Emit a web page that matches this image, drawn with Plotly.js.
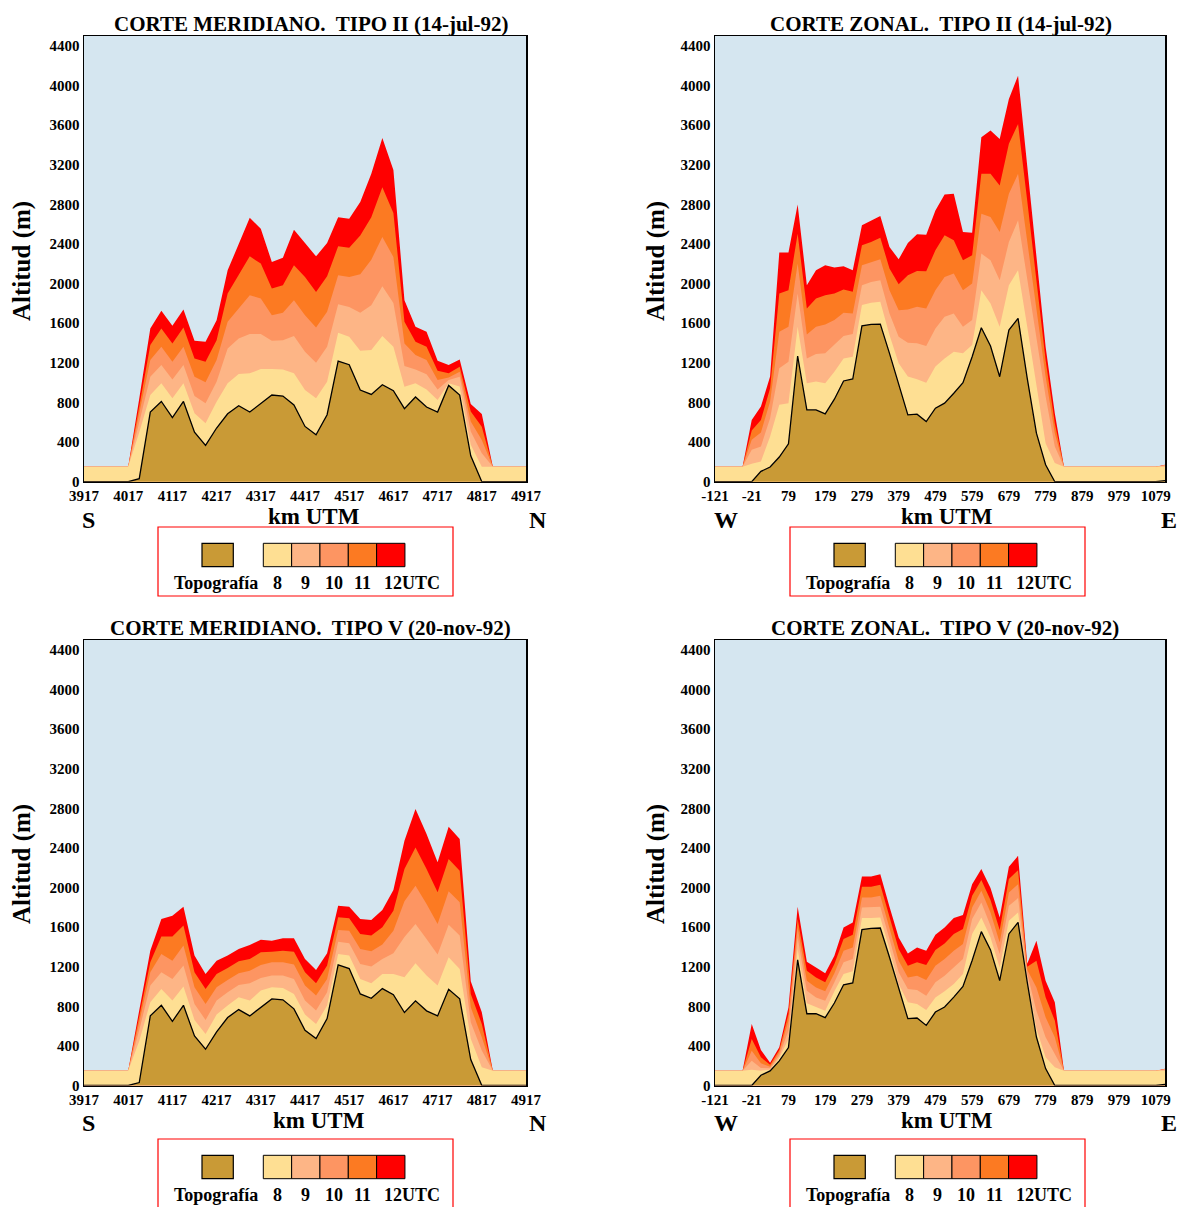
<!DOCTYPE html>
<html><head><meta charset="utf-8">
<script src="https://cdn.plot.ly/plotly-3.0.1.min.js"></script>
<style>html,body{margin:0;padding:0;background:#fff}#chart{width:1179px;height:1207px}</style>
</head><body><div id="chart"></div>
<script>
// ---------- DATA ----------
const merX = [3917,3942,3967,3992,4017,4042,4067,4092,4117,4142,4167,4192,4217,4242,4267,4292,4317,4342,4367,4392,4417,4442,4467,4492,4517,4542,4567,4592,4617,4642,4667,4692,4717,4742,4767,4792,4817,4842,4867,4892,4917];
const merTicks = [3917,4017,4117,4217,4317,4417,4517,4617,4717,4817,4917];
const merTopo = [0,0,0,0,0,30,703,810,648,810,500,366,542,686,767,703,787,875,865,774,558,474,676,1218,1181,925,881,979,918,737,855,754,703,972,875,262,0,0,0,0,0];

// Tipo II (14-jul-92), meridional: mixing heights at 8..12 UTC
const m2_8  = [150,150,150,150,150,500,876,993,842,993,691,590,808,993,1087,1094,1137,1137,1134,1094,926,842,1010,1503,1463,1322,1329,1470,1362,959,993,932,825,993,960,372,150,150,150,150,150];
const m2_9  = [150,150,150,150,150,600,1060,1178,1033,1178,865,792,1010,1345,1446,1490,1490,1423,1429,1470,1312,1201,1362,1792,1765,1705,1782,1973,1805,1168,1134,1084,932,1027,1060,506,288,150,150,150,150];
const m2_10 = [150,150,150,150,150,690,1228,1362,1211,1362,1060,1003,1228,1614,1748,1883,1849,1681,1705,1832,1681,1557,1715,2084,2067,2094,2242,2470,2269,1396,1278,1228,1027,1053,1110,607,422,150,150,150,150];
const m2_11 = [150,150,150,150,150,760,1379,1547,1396,1557,1245,1211,1429,1899,2084,2275,2202,1950,1983,2185,2067,1916,2074,2376,2363,2487,2671,2974,2712,1614,1413,1362,1121,1094,1160,708,556,150,150,150,150];
const m2_12 = [150,150,150,150,150,840,1547,1725,1574,1738,1423,1413,1631,2134,2396,2665,2554,2218,2262,2544,2410,2275,2410,2671,2655,2823,3108,3470,3148,1832,1564,1513,1221,1178,1235,785,684,150,150,150,150];

// Tipo V (20-nov-92), meridional
const m5_8  = [150,150,150,150,150,450,841,975,858,999,662,521,716,807,891,858,959,992,985,925,716,622,807,1329,1312,1076,1033,1127,1127,1093,1234,1110,1009,1295,1177,471,185,150,150,150,150];
const m5_9  = [150,150,150,150,150,560,1009,1144,1076,1211,824,662,858,942,1016,1033,1086,1110,1110,1076,858,757,942,1453,1436,1228,1201,1278,1335,1500,1631,1480,1322,1625,1514,639,353,150,150,150,150];
const m5_10 = [150,150,150,150,150,640,1144,1329,1261,1413,992,824,992,1066,1134,1160,1218,1245,1245,1221,1009,908,1076,1571,1564,1379,1356,1423,1564,1860,2018,1833,1631,1961,1850,790,488,150,150,150,150];
const m5_11 = [150,150,150,150,150,700,1245,1504,1504,1615,1144,975,1127,1187,1255,1278,1345,1352,1362,1352,1144,1033,1211,1699,1689,1531,1514,1598,1766,2186,2405,2186,1951,2287,2170,925,622,150,150,150,150];
const m5_12 = [150,150,150,150,150,760,1362,1682,1715,1806,1312,1127,1261,1312,1379,1419,1473,1463,1487,1487,1278,1167,1335,1816,1806,1682,1672,1773,1975,2472,2792,2540,2254,2614,2489,1053,740,150,150,150,150];

const zonX = [-121,-96,-71,-46,-21,4,29,54,79,104,129,154,179,204,229,254,279,304,329,354,379,404,429,454,479,504,529,554,579,604,629,654,679,704,729,754,779,804,829,854,879,904,929,954,979,1004,1029,1054,1079,1104];
const zonTicks = [-121,-21,79,179,279,379,479,579,679,779,879,979,1079];
const zonTopo = [0,0,0,0,0,104,148,249,383,1269,725,725,685,833,1017,1037,1574,1588,1591,1296,994,675,682,607,742,793,893,1000,1262,1554,1370,1060,1531,1648,1044,490,171,0,0,0,0,0,0,0,0,0,0,0,0,10];

// Tipo II, zonal
const z2_8  = [150,150,150,150,180,205,457,776,792,1564,994,1011,994,1111,1245,1262,1783,1806,1816,1481,1195,1061,1034,1000,1162,1245,1313,1296,1380,1934,1799,1564,1984,2135,1564,970,389,188,150,150,150,150,150,150,150,150,150,150,150,150];
const z2_9  = [150,150,150,150,322,356,641,1145,1212,1900,1245,1289,1296,1380,1470,1491,1984,2017,2034,1699,1464,1403,1397,1370,1548,1665,1699,1564,1632,2303,2236,2034,2420,2639,2061,1457,860,356,150,150,150,150,150,150,150,150,150,150,150,165];
const z2_10 = [150,150,150,150,423,497,809,1514,1564,2202,1487,1564,1588,1632,1705,1699,2185,2219,2246,1934,1732,1739,1766,1749,1934,2068,2101,1934,2001,2706,2672,2521,2907,3109,2444,1752,1061,490,150,150,150,150,150,150,150,150,150,150,150,165];
const z2_11 = [150,150,150,150,517,624,943,1900,1934,2504,1749,1850,1883,1900,1940,1917,2387,2420,2464,2152,1994,2085,2128,2125,2337,2488,2437,2236,2286,3109,3109,2991,3411,3612,2837,2034,1229,591,150,150,150,150,150,150,150,150,150,150,150,165];
const z2_12 = [150,150,150,150,624,759,1061,2313,2313,2800,1984,2135,2185,2162,2175,2135,2588,2639,2682,2370,2246,2410,2498,2494,2739,2900,2907,2521,2514,3478,3545,3461,3864,4099,3209,2290,1363,692,150,150,150,150,150,150,150,150,150,150,150,170];

// Tipo V, zonal
const z5_8  = [150,150,150,150,160,150,160,280,470,1378,830,789,756,951,1126,1153,1691,1691,1698,1378,1025,840,823,763,890,951,1025,1126,1530,1698,1496,1193,1664,1748,1090,572,285,184,150,150,150,150,150,150,150,150,150,150,150,150];
const z5_9  = [150,150,150,150,251,178,175,302,554,1496,958,890,857,1042,1244,1277,1799,1799,1805,1479,1143,975,964,907,1042,1109,1193,1277,1681,1849,1614,1328,1815,1893,1130,756,487,319,150,150,150,150,150,150,150,150,150,150,150,165];
const z5_10 = [150,150,150,150,352,225,190,335,655,1597,1059,991,951,1133,1361,1395,1900,1900,1916,1597,1260,1092,1109,1065,1210,1277,1361,1429,1799,1967,1748,1445,1950,2034,1170,991,689,487,150,150,150,150,150,150,150,150,150,150,150,165];
const z5_11 = [150,150,150,150,470,285,210,359,722,1681,1160,1092,1042,1227,1479,1523,2007,2007,2027,1698,1378,1210,1244,1217,1368,1435,1530,1580,1916,2075,1873,1570,2085,2175,1200,1260,891,656,150,150,150,150,150,150,150,150,150,150,150,165];
const z5_12 = [150,150,150,150,621,359,230,386,789,1805,1250,1193,1133,1311,1597,1647,2112,2112,2135,1805,1496,1334,1395,1361,1523,1597,1691,1721,2034,2186,1994,1698,2209,2320,1230,1462,1059,840,150,150,150,150,150,150,150,150,150,150,150,170];

const yTicks = [0,400,800,1200,1600,2000,2400,2800,3200,3600,4000,4400];
const hourLabels = ['8','9','10','11'];
const titles = ['CORTE MERIDIANO.\u00a0 TIPO II (14-jul-92)','CORTE ZONAL.\u00a0 TIPO II (14-jul-92)',
                'CORTE MERIDIANO.\u00a0 TIPO V (20-nov-92)','CORTE ZONAL.\u00a0 TIPO V (20-nov-92)'];

// ---------- STYLE / LAYOUT ----------
const W = 1179, H = 1207;
const fx = v => v / W, fy = v => 1 - v / H;
const TOPO_C = '#c99a36';
const LAYER_C = ['#fedf93','#fdb586','#fd9562','#fc7a22','#ff0000']; // 8..12 UTC
const FONT = 'Liberation Serif, Times New Roman, serif';

const panels = [
  {xa:'x',  ya:'y',  x:merX, topo:merTopo, L:[m2_8,m2_9,m2_10,m2_11,m2_12], ox:0,   oy:0},
  {xa:'x2', ya:'y2', x:zonX, topo:zonTopo, L:[z2_8,z2_9,z2_10,z2_11,z2_12], ox:631, oy:0},
  {xa:'x3', ya:'y3', x:merX, topo:merTopo, L:[m5_8,m5_9,m5_10,m5_11,m5_12], ox:0,   oy:603},
  {xa:'x4', ya:'y4', x:zonX, topo:zonTopo, L:[z5_8,z5_9,z5_10,z5_11,z5_12], ox:631, oy:603}
];

const traces = [];
panels.forEach(p => {
  for (let j = 4; j >= 0; j--) {
    traces.push({x:p.x, y:p.L[j], xaxis:p.xa, yaxis:p.ya, type:'scatter', mode:'lines',
      fill:'tozeroy', fillcolor:LAYER_C[j], line:{width:0, color:LAYER_C[j]}, hoverinfo:'skip', showlegend:false});
  }
  traces.push({x:p.x, y:p.topo, xaxis:p.xa, yaxis:p.ya, type:'scatter', mode:'lines',
    fill:'tozeroy', fillcolor:TOPO_C, line:{width:1.3, color:'#000'}, hoverinfo:'skip', showlegend:false});
});

const tickfont = {family:FONT, size:15, color:'#000', weight:'bold'};
function xax(dom, range, ticks, anchor) {
  return {domain:dom, range:range, tickvals:ticks, ticktext:ticks.map(String), tickfont:tickfont,
    showline:true, mirror:true, linecolor:'#000', linewidth:1.5, showgrid:false, zeroline:false,
    ticks:'', anchor:anchor, fixedrange:true};
}
function yax(dom, anchor) {
  return {domain:dom, range:[0,4500], tickvals:yTicks, ticktext:yTicks.map(String), tickfont:tickfont,
    showline:true, mirror:true, linecolor:'#000', linewidth:1.5, showgrid:false, zeroline:false,
    ticks:'', anchor:anchor, fixedrange:true};
}
const xL = [fx(84), fx(526)], xR = [fx(715), fx(1165)];
const yT = [fy(481.7), fy(36)], yB = [fy(1085.5), fy(640)];

const ann = [];
const shapes = [];
function txt(s, x, y, size, opts) {
  ann.push(Object.assign({text:'<b>'+s+'</b>', x:fx(x), y:fy(y), xref:'paper', yref:'paper',
    showarrow:false, xanchor:'center', yanchor:'middle',
    font:{family:FONT, size:size, color:'#000'}}, opts || {}));
}
const titlePos = [[311,24],[941,24],[310,628],[945,628]];
panels.forEach((p, i) => {
  txt(titles[i], titlePos[i][0], titlePos[i][1], 21);
  const ox = p.ox, oy = p.oy;
  txt('Altitud (m)', 22 + (ox ? 634 : 0), 261 + oy, 25, {textangle:-90});
  txt('km UTM', (i===0?314:i===2?319:947), 517 + oy, 23);
  const ends = (p.x === merX) ? ['S','N'] : ['W','E'];
  const ex = (p.x === merX) ? [88, 538] : [726, 1169];
  txt(ends[0], ex[0], 520 + oy, 24);
  txt(ends[1], ex[1], 520 + oy, 24);
  // legend box
  const lx = 158 + (ox ? 632 : 0), ly = 527 + (oy ? 612 : 0);
  shapes.push({type:'rect', xref:'paper', yref:'paper', x0:fx(lx), x1:fx(lx+295), y0:fy(ly), y1:fy(ly+69),
    line:{color:'#ff0000', width:1.2}, fillcolor:'rgba(0,0,0,0)'});
  shapes.push({type:'rect', xref:'paper', yref:'paper', x0:fx(lx+44), x1:fx(lx+75.3), y0:fy(ly+16.3), y1:fy(ly+39.7),
    line:{color:'#000', width:1.2}, fillcolor:TOPO_C});
  for (let j = 0; j < 5; j++) {
    const a = lx + 105.3 + 28.33*j;
    shapes.push({type:'rect', xref:'paper', yref:'paper', x0:fx(a), x1:fx(a+28.33), y0:fy(ly+16.3), y1:fy(ly+39.7),
      line:{color:'#000', width:1}, fillcolor:LAYER_C[j]});
  }
  txt('Topografía', lx + 57.5, ly + 56, 18);
  hourLabels.forEach((h, j) => txt(h, lx + 119.5 + 28.33*j, ly + 56, 18));
  txt('12UTC', lx + 224, ly + 56, 18, {xanchor:'left'});
});

const layout = {
  width:W, height:H, margin:{l:0, r:0, t:0, b:0}, paper_bgcolor:'#fff', plot_bgcolor:'#d5e6f0',
  showlegend:false,
  xaxis: xax(xL, [3917,4917], merTicks, 'y'),
  yaxis: yax(yT, 'x'),
  xaxis2: xax(xR, [-121,1104], zonTicks, 'y2'),
  yaxis2: yax(yT, 'x2'),
  xaxis3: xax(xL, [3917,4917], merTicks, 'y3'),
  yaxis3: yax(yB, 'x3'),
  xaxis4: xax(xR, [-121,1104], zonTicks, 'y4'),
  yaxis4: yax(yB, 'x4'),
  annotations: ann, shapes: shapes
};
Plotly.newPlot('chart', traces, layout, {displayModeBar:false, staticPlot:true});
</script>
</body></html>
